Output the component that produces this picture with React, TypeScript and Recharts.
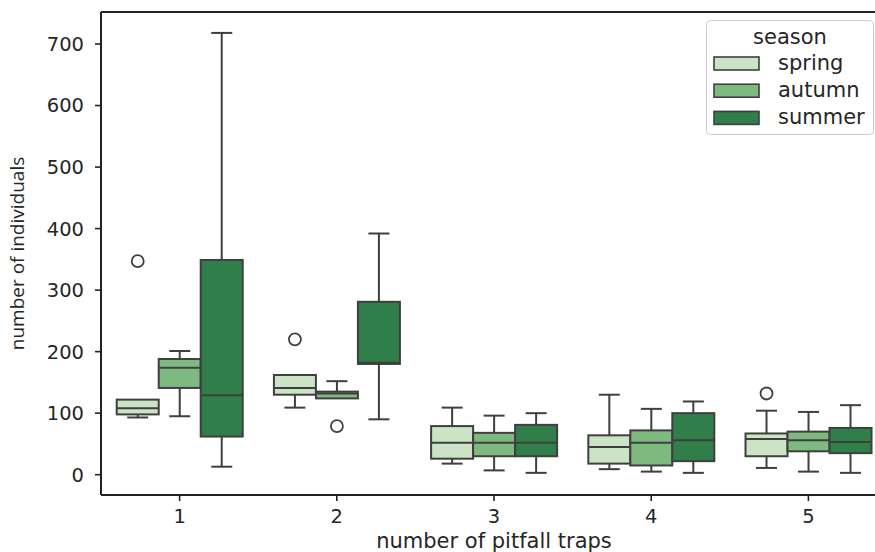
import { Bar, ComposedChart, ReferenceLine, XAxis, YAxis } from "recharts";

// number of pitfall traps (categories)
const traps = ["1", "2", "3", "4", "5"];
const seasons = ["spring", "autumn", "summer"];

// box stats, per trap count
const springLow = [93, 109, 18, 9, 11];
const springQ1 = [98, 130, 26, 18, 30];
const springMed = [108, 141, 52, 45, 58];
const springQ3 = [122, 162, 79, 64, 67];
const springHigh = [122, 162, 109, 130, 104];
const springOut = [[347], [220], [], [], [132]];

const autumnLow = [95, 124, 7, 5, 5];
const autumnQ1 = [141, 124, 30, 15, 38];
const autumnMed = [174, 132, 52, 52, 56];
const autumnQ3 = [188, 135, 68, 72, 70];
const autumnHigh = [201, 152, 96, 107, 102];
const autumnOut = [[], [79], [], [], []];

const summerLow = [13, 90, 3, 3, 3];
const summerQ1 = [62, 180, 30, 22, 35];
const summerMed = [129, 182, 52, 56, 53];
const summerQ3 = [349, 281, 81, 100, 76];
const summerHigh = [718, 392, 100, 119, 113];
const summerOut = [[], [], [], [], []];

const yTicks = [0, 100, 200, 300, 400, 500, 600, 700];

const colors: Record<string, string> = {
    spring: "#cbe4c5",
    autumn: "#7eba80",
    summer: "#307e4a",
};
const edge = "#3f3f3f";

const stats: Record<string, number[][]> = {
    spring: [springLow, springQ1, springMed, springQ3, springHigh],
    autumn: [autumnLow, autumnQ1, autumnMed, autumnQ3, autumnHigh],
    summer: [summerLow, summerQ1, summerMed, summerQ3, summerHigh],
};
const outliers: Record<string, number[][]> = {
    spring: springOut,
    autumn: autumnOut,
    summer: summerOut,
};

const data = traps.map((trap, i) => {
    const row: any = { trap };
    seasons.forEach((s) => {
        const [lo, q1, med, q3, hi] = stats[s].map((arr) => arr[i]);
        row[s] = { lo, q1, med, q3, hi, out: outliers[s][i] };
    });
    return row;
});

function BoxShape(props: any) {
    const { x, y, width, height, payload, season } = props;
    const b = payload[season];
    // pixel of a value, using the bar's own scaled whisker range
    const py = (v: number) => y + ((b.hi - v) / (b.hi - b.lo)) * height;
    const cx = x + width / 2;
    const capW = width / 2;
    const top = py(b.q3);
    const bot = py(b.q1);
    return (
        <g>
            <line x1={cx} x2={cx} y1={py(b.hi)} y2={top} stroke={edge} strokeWidth={2} />
            <line x1={cx} x2={cx} y1={bot} y2={py(b.lo)} stroke={edge} strokeWidth={2} />
            {b.hi > b.q3 && (
                <line x1={cx - capW / 2} x2={cx + capW / 2} y1={py(b.hi)} y2={py(b.hi)} stroke={edge} strokeWidth={2} />
            )}
            {b.lo < b.q1 && (
                <line x1={cx - capW / 2} x2={cx + capW / 2} y1={py(b.lo)} y2={py(b.lo)} stroke={edge} strokeWidth={2} />
            )}
            <rect x={x} y={top} width={width} height={bot - top} fill={colors[season]} stroke={edge} strokeWidth={2} />
            <line x1={x} x2={x + width} y1={py(b.med)} y2={py(b.med)} stroke={edge} strokeWidth={2} />
            {b.out.map((v: number, k: number) => (
                <circle key={k} cx={cx} cy={py(v)} r={6} fill="none" stroke={edge} strokeWidth={1.8} />
            ))}
        </g>
    );
}

const font = "'DejaVu Sans', sans-serif";

export default function App() {
    return (
        <div style={{ width: 875, height: 552, overflow: "hidden", position: "relative", background: "#fff" }}>
            <style>{"body{margin:0}"}</style>
            <ComposedChart
                width={890}
                height={552}
                data={data}
                margin={{ top: 12, right: 3, bottom: 0, left: 0 }}
                barCategoryGap="10%"
                barGap={0}
            >
                <XAxis
                    dataKey="trap"
                    type="category"
                    interval={0}
                    height={57}
                    tickSize={6}
                    tickMargin={8}
                    axisLine={{ stroke: "#222", strokeWidth: 2 }}
                    tickLine={{ stroke: "#222", strokeWidth: 1.6 }}
                    tick={{ fill: "#262626", fontSize: 19.5, fontFamily: font }}
                    label={{
                        value: "number of pitfall traps",
                        position: "insideBottom",
                        offset: 4,
                        style: { fill: "#262626", fontSize: 21, fontFamily: font },
                    }}
                />
                <YAxis
                    type="number"
                    domain={[-33, 752]}
                    ticks={yTicks}
                    allowDataOverflow
                    width={101}
                    tickSize={6}
                    tickMargin={11}
                    axisLine={{ stroke: "#222", strokeWidth: 2 }}
                    tickLine={{ stroke: "#222", strokeWidth: 1.6 }}
                    tick={{ fill: "#262626", fontSize: 19.5, fontFamily: font }}
                    label={{
                        value: "number of individuals",
                        angle: -90,
                        position: "insideLeft",
                        offset: 17,
                        style: { fill: "#262626", fontSize: 19, fontFamily: "'Open Sans', sans-serif", textAnchor: "middle" },
                    }}
                />
                <ReferenceLine y={752} stroke="#222" strokeWidth={2} />
                {seasons.map((s) => (
                    <Bar
                        key={s}
                        dataKey={(d: any) => [d[s].lo, d[s].hi]}
                        fill={colors[s]}
                        isAnimationActive={false}
                        shape={(p: any) => <BoxShape {...p} season={s} />}
                    />
                ))}
            </ComposedChart>
            <svg width={875} height={552} style={{ position: "absolute", left: 0, top: 0, pointerEvents: "none" }}>
                <rect x={706.5} y={20.5} width={167} height={114} rx={4} fill="#fff" fillOpacity={0.8} stroke="#cccccc" />
                <text x={790} y={44} textAnchor="middle" fontFamily={font} fontSize={21} fill="#262626">
                    season
                </text>
                {seasons.map((s, i) => {
                    const cy = 63.5 + i * 27.2;
                    return (
                        <g key={s}>
                            <rect x={714} y={cy - 6.5} width={45} height={13} fill={colors[s]} stroke={edge} strokeWidth={1.6} />
                            <text x={778} y={cy + 6} fontFamily={font} fontSize={21} fill="#262626">
                                {s}
                            </text>
                        </g>
                    );
                })}
            </svg>
        </div>
    );
}
